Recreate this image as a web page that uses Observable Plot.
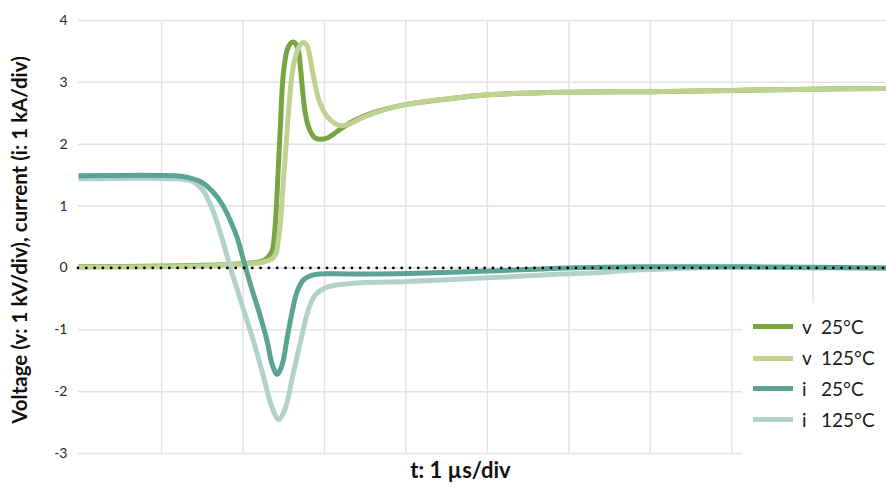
<!DOCTYPE html>
<html>
<head>
<meta charset="utf-8">
<script src="https://cdn.jsdelivr.net/npm/d3@7"></script>
<script src="https://cdn.jsdelivr.net/npm/@observablehq/plot@0.6"></script>
<style>
  html, body { margin: 0; padding: 0; background: #fff; }
  #wrap { position: relative; width: 886px; height: 488px; font-family: Lato, sans-serif; }
  #legend { position: absolute; left: 742px; top: 303px; width: 144px; height: 185px; background: #fff; }
  .sw { position: absolute; left: 11px; width: 40px; height: 5px; }
  .lt { position: absolute; font-size: 19px; line-height: 20px; color: #1a1a1a; white-space: nowrap; }
</style>
</head>
<body>
<div id="wrap"><div id="legend"></div></div>
<script>
// ---- data (t in µs divisions, value in divisions) ----
const v25_t = [-0.02, 0.99, 1.72, 2.09, 2.21, 2.288, 2.337, 2.362, 2.386, 2.411, 2.435, 2.460, 2.484, 2.521, 2.558, 2.607, 2.644, 2.681, 2.705, 2.730, 2.767, 2.816, 2.877, 2.951, 3.049, 3.20, 3.36, 3.60, 3.99, 4.63, 5.00, 5.98, 6.99, 7.99, 8.98, 9.90];
const v25_y = [0.02, 0.03, 0.05, 0.08, 0.10, 0.15, 0.23, 0.30, 0.54, 1.02, 1.67, 2.32, 2.97, 3.40, 3.58, 3.65, 3.63, 3.50, 3.24, 2.89, 2.48, 2.24, 2.11, 2.08, 2.11, 2.25, 2.38, 2.51, 2.64, 2.75, 2.80, 2.84, 2.85, 2.87, 2.89, 2.90];

const v125_t = [-0.02, 0.99, 1.72, 2.214, 2.313, 2.374, 2.411, 2.435, 2.460, 2.497, 2.534, 2.570, 2.607, 2.656, 2.705, 2.742, 2.779, 2.816, 2.853, 2.902, 2.951, 3.025, 3.111, 3.197, 3.295, 3.418, 3.60, 3.99, 4.63, 5.00, 5.98, 6.99, 7.99, 8.98, 9.90];
const v125_y = [0.01, 0.02, 0.045, 0.085, 0.12, 0.17, 0.26, 0.46, 0.75, 1.43, 2.08, 2.72, 3.18, 3.47, 3.61, 3.65, 3.61, 3.45, 3.18, 2.86, 2.64, 2.46, 2.35, 2.30, 2.32, 2.40, 2.50, 2.64, 2.75, 2.80, 2.84, 2.85, 2.87, 2.89, 2.90];

const i25_t = [-0.02, 1.17, 1.334, 1.499, 1.622, 1.744, 1.846, 1.928, 2.009, 2.092, 2.194, 2.297, 2.358, 2.420, 2.481, 2.542, 2.604, 2.665, 2.746, 2.890, 3.135, 3.44, 4.02, 5.00, 5.98, 6.99, 7.99, 8.98, 9.90];
const i25_y = [1.49, 1.49, 1.46, 1.38, 1.24, 1.03, 0.76, 0.49, 0.11, -0.27, -0.70, -1.19, -1.56, -1.72, -1.56, -1.13, -0.70, -0.38, -0.19, -0.105, -0.095, -0.10, -0.09, -0.05, 0.00, 0.02, 0.02, 0.01, 0.00];

const i125_t = [-0.02, 1.171, 1.376, 1.499, 1.601, 1.683, 1.764, 1.846, 1.948, 2.051, 2.153, 2.255, 2.358, 2.439, 2.521, 2.604, 2.706, 2.808, 2.890, 3.013, 3.135, 3.44, 4.02, 5.00, 5.90, 6.30, 6.72, 7.13, 7.49, 7.99, 8.98, 9.90];
const i125_y = [1.44, 1.44, 1.40, 1.27, 1.02, 0.73, 0.38, 0.00, -0.43, -0.86, -1.29, -1.78, -2.26, -2.45, -2.26, -1.78, -1.19, -0.65, -0.43, -0.32, -0.28, -0.24, -0.22, -0.16, -0.10, -0.08, -0.04, -0.02, 0.00, 0.01, 0.00, 0.00];

const seriesKeys = ["v25", "v125", "i125", "i25"]; // draw order
const legendOrder = ["v25", "v125", "i25", "i125"];
const seriesLetter = {v25: "v", v125: "v", i25: "i", i125: "i"};
const seriesTemp = {v25: "25°C", v125: "125°C", i25: "25°C", i125: "125°C"};
const seriesColor = {v25: "#77a541", v125: "#c0d291", i25: "#5ba494", i125: "#b2d2c9"};
const seriesT = {v25: v25_t, v125: v125_t, i25: i25_t, i125: i125_t};
const seriesY = {v25: v25_y, v125: v125_y, i25: i25_y, i125: i125_y};

const yTicks = [-3, -2, -1, 0, 1, 2, 3, 4];
const xGrid = [1, 2, 3, 4, 5, 6, 7, 8, 9];
const yTitle = "Voltage (v: 1 kV/div), current (i: 1 kA/div)";
const xTitle = "t: 1 µs/div";

const gridColor = "#e6e1e3";

const lineMarks = seriesKeys.map(k => {
  const data = seriesT[k].map((t, j) => ({t, y: seriesY[k][j]}));
  return Plot.line(data, {x: "t", y: "y", stroke: seriesColor[k], strokeWidth: 5, curve: "catmull-rom", strokeLinejoin: "round", strokeLinecap: "butt"});
});

const chart = Plot.plot({
  width: 886,
  height: 488,
  marginLeft: 78,
  marginRight: 0,
  marginTop: 20,
  marginBottom: 35,
  style: {fontFamily: "Lato, sans-serif", background: "transparent"},
  x: {domain: [-0.02, 9.9], axis: null},
  y: {domain: [-3, 4], axis: null},
  marks: [
    Plot.gridX(xGrid, {stroke: gridColor, strokeOpacity: 1, strokeWidth: 1.5}),
    Plot.gridY(yTicks, {stroke: gridColor, strokeOpacity: 1, strokeWidth: 1.5}),
    Plot.axisY(yTicks, {tickSize: 0, tickPadding: 11, fontSize: 14, fill: "#262626", label: null, tickFormat: d => String(d)}),
    ...lineMarks,
    Plot.ruleY([0], {stroke: "#000", strokeWidth: 2.8, strokeDasharray: "0 8.3", strokeLinecap: "round"}),
    Plot.text([yTitle], {frameAnchor: "left", textAnchor: "middle", rotate: -90, dx: -58, dy: 3, fontSize: 20.5, fontWeight: "bold", fill: "#111"}),
    Plot.text([xTitle], {frameAnchor: "bottom", textAnchor: "middle", dx: -22, dy: 24, fontSize: 22, fontWeight: "bold", fill: "#111"})
  ]
});

const wrap = document.getElementById("wrap");
wrap.insertBefore(chart, wrap.firstChild);

const legend = document.getElementById("legend");
const rowCenters = [23.7, 55, 85.7, 116.7];
legendOrder.forEach((k, j) => {
  const c = rowCenters[j];
  const sw = document.createElement("div");
  sw.className = "sw";
  sw.style.top = (c - 2.5) + "px";
  sw.style.background = seriesColor[k];
  legend.appendChild(sw);
  const a = document.createElement("div");
  a.className = "lt";
  a.style.left = "60px";
  a.style.top = (c - 10) + "px";
  a.textContent = seriesLetter[k];
  legend.appendChild(a);
  const b = document.createElement("div");
  b.className = "lt";
  b.style.left = "79px";
  b.style.top = (c - 10) + "px";
  b.textContent = seriesTemp[k];
  legend.appendChild(b);
});
</script>
</body>
</html>
